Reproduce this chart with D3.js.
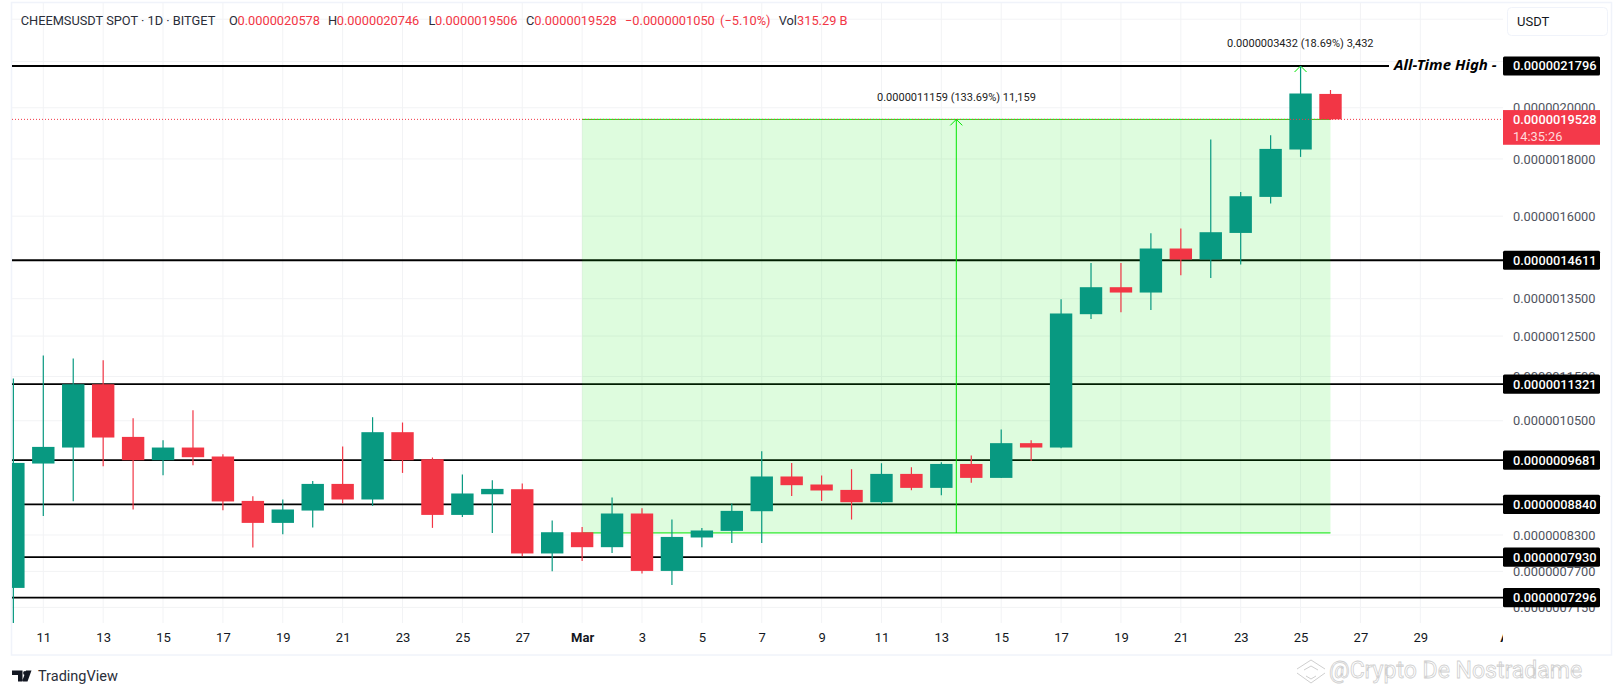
<!DOCTYPE html>
<html lang="en">
<head>
<meta charset="UTF-8">
<title>CHEEMSUSDT</title>
<script src="https://cdn.jsdelivr.net/npm/d3@7"></script>
<style>
  html, body { margin: 0; padding: 0; background: #fff; }
  svg { display: block; }
  text { font-family: Roboto, "Noto Sans", sans-serif; }
</style>
</head>
<body>
<svg id="chart" width="1620" height="692"></svg>
<script>
// prices are in units of 0.0000000001 USDT
const opens = [7443,9615,9937,11320,10157,9681,9937,9755,8903,8509,8728,9220,8929,10256,9701,8650,9026,9120,7990,8347,8094,8675,7708,8257,8370,8716,9362,9209,9107,8879,9412,9145,9607,9335,10027,9937,13076,13823,13672,14969,14634,15457,16647,18353,20578];
const highs = [11454,12010,11936,11894,10555,10088,10731,9801,8990,8929,9277,9958,10577,10462,9735,9400,9291,9228,8551,8439,8966,8770,8568,8422,8856,9862,9627,9381,9503,9621,9542,9641,9775,10313,10088,13486,14532,14532,15448,15599,18735,16819,18901,21796,20746];
const lows = [6893,8632,8898,9562,8747,9387,9582,8734,8088,8313,8428,8856,8812,9431,8422,8615,8335,7945,7703,7869,7999,7667,7489,8094,8166,8166,8995,8903,8568,8843,9101,9008,9242,9335,9667,9923,12949,13129,13192,14169,14087,14484,16420,18076,19506];
const closes = [9627,9950,11320,10144,9681,9937,9741,8893,8509,8747,9220,8929,10256,9681,8650,9040,9126,7990,8347,8094,8675,7708,8267,8377,8722,9362,9196,9096,8879,9412,9145,9607,9335,10027,9937,13095,13823,13672,14969,14634,15480,16670,18376,20596,19528];
const candleDates = d3.utcDay.range(new Date(Date.UTC(2025, 1, 10)), new Date(Date.UTC(2025, 2, 27)));

const levelPrices = [21796, 14611, 11321, 9681, 8840, 7930, 7296];
const priceTicks = [24000, 22000, 20000, 18000, 16000, 13500, 12500, 11500, 10500, 8300, 7700, 7150];
const lastPrice = 19528;
const measureLow = 8335;
const measureDate = new Date(Date.UTC(2025, 2, 13, 12));
const measureStart = new Date(Date.UTC(2025, 2, 1));
const measureEnd = new Date(Date.UTC(2025, 2, 26));
const breakoutDate = new Date(Date.UTC(2025, 2, 25));
const breakoutFrom = 18353;
const dateTicks = [
  ...d3.range(11, 28, 2).map(d => new Date(Date.UTC(2025, 1, d))),
  ...d3.range(1, 30, 2).map(d => new Date(Date.UTC(2025, 2, d))),
  new Date(Date.UTC(2025, 3, 1))
];

const green = "#089981", red = "#f23645", measure = "#00e600";
const paneLeft = 12, paneRight = 1503, paneTop = 3, paneBottom = 623;

const svg = d3.select("#chart");
const y = d3.scaleLog().domain([21796, 7296]).range([66, 597.6]);
const x = d3.scaleUtc()
  .domain([new Date(Date.UTC(2025, 1, 11)), new Date(Date.UTC(2025, 2, 29))])
  .range([43.3, 1420.3]);
const fmtPrice = p => "0." + String(Math.round(p)).padStart(10, "0");

svg.append("defs").append("clipPath").attr("id", "pane")
  .append("rect").attr("x", paneLeft).attr("y", paneTop)
  .attr("width", paneRight - paneLeft).attr("height", paneBottom - paneTop);
svg.select("defs").append("clipPath").attr("id", "xlabels")
  .append("rect").attr("x", paneLeft).attr("y", paneBottom)
  .attr("width", paneRight - paneLeft).attr("height", 32);

// frame
svg.append("rect").attr("x", 11.5).attr("y", 2.5).attr("width", 1600).attr("height", 652.5)
  .attr("fill", "none").attr("stroke", "#f0f3fa").attr("stroke-width", 1.5);

const pane = svg.append("g").attr("clip-path", "url(#pane)");

// grid
pane.append("g").selectAll("line").data(priceTicks).join("line")
  .attr("x1", paneLeft).attr("x2", paneRight)
  .attr("y1", d => y(d)).attr("y2", d => y(d))
  .attr("stroke", "#f2f3f5").attr("stroke-width", 1);
pane.append("g").selectAll("line").data(dateTicks).join("line")
  .attr("x1", d => x(d)).attr("x2", d => x(d))
  .attr("y1", paneTop).attr("y2", paneBottom)
  .attr("stroke", "#f2f3f5").attr("stroke-width", 1);

// horizontal levels
pane.append("g").selectAll("line").data(levelPrices).join("line")
  .attr("x1", paneLeft)
  .attr("x2", d => d === 21796 ? 1389 : paneRight)
  .attr("y1", d => y(d)).attr("y2", d => y(d))
  .attr("stroke", "#000").attr("stroke-width", 1.8);

// measured move
pane.append("rect")
  .attr("x", x(measureStart)).attr("width", x(measureEnd) - x(measureStart))
  .attr("y", y(lastPrice)).attr("height", y(measureLow) - y(lastPrice))
  .attr("fill", "rgba(0,230,0,0.13)");
pane.append("g").selectAll("line").data([lastPrice, measureLow]).join("line")
  .attr("x1", x(measureStart)).attr("x2", x(measureEnd))
  .attr("y1", d => y(d)).attr("y2", d => y(d))
  .attr("stroke", measure).attr("stroke-width", 1);
const arrow = (date, from, to) => {
  const g = pane.append("g").attr("stroke", measure).attr("fill", "none").attr("stroke-width", 1);
  g.append("line").attr("x1", x(date)).attr("x2", x(date)).attr("y1", y(from)).attr("y2", y(to));
  g.append("path").attr("d", `M${x(date) - 6},${y(to) + 6}L${x(date)},${y(to)}L${x(date) + 6},${y(to) + 6}`);
};
arrow(measureDate, measureLow, lastPrice);
arrow(breakoutDate, breakoutFrom, 21796);

// candles
const candles = pane.append("g").selectAll("g").data(candleDates).join("g")
  .attr("fill", (d, i) => closes[i] >= opens[i] ? green : red)
  .attr("stroke", (d, i) => closes[i] >= opens[i] ? green : red);
candles.append("line")
  .attr("x1", d => x(d)).attr("x2", d => x(d))
  .attr("y1", (d, i) => y(highs[i])).attr("y2", (d, i) => y(lows[i]))
  .attr("stroke-width", 1.2);
candles.append("rect")
  .attr("x", d => x(d) - 11.2).attr("width", 22.4)
  .attr("y", (d, i) => y(Math.max(opens[i], closes[i])))
  .attr("height", (d, i) => Math.abs(y(opens[i]) - y(closes[i])))
  .attr("stroke", "none");

// last price dotted line
pane.append("line")
  .attr("x1", paneLeft).attr("x2", paneRight)
  .attr("y1", y(lastPrice)).attr("y2", y(lastPrice))
  .attr("stroke", red).attr("stroke-width", 1).attr("stroke-dasharray", "1 2");

// axes
const yAxis = svg.append("g").attr("transform", `translate(${paneRight},0)`)
  .call(d3.axisRight(y).tickValues(priceTicks).tickFormat(fmtPrice).tickSize(0).tickPadding(10));
yAxis.select(".domain").remove();
yAxis.selectAll("text").attr("fill", "#50535e").style("font-size", "12.8px");

const xAxis = svg.append("g").attr("clip-path", "url(#xlabels)").append("g")
  .attr("transform", `translate(0,${paneBottom})`)
  .call(d3.axisBottom(x).tickValues(dateTicks).tickSize(0).tickPadding(10)
    .tickFormat(d => d.getUTCDate() === 1 ? d3.utcFormat("%b")(d) : d.getUTCDate()));
xAxis.select(".domain").remove();
xAxis.selectAll("text").attr("fill", "#131722").style("font-size", "13px")
  .attr("font-weight", d => d.getUTCDate() === 1 ? 700 : 400);

// level tags
const tags = svg.append("g").selectAll("g").data(levelPrices).join("g")
  .attr("transform", d => `translate(${paneRight},${y(d)})`);
tags.append("rect").attr("y", -9.6).attr("width", 97).attr("height", 19.2).attr("rx", 1.5).attr("fill", "#000");
tags.append("text").attr("x", 10).attr("dy", "0.35em").attr("fill", "#fff")
  .style("font-size", "12.8px").attr("font-weight", 500).text(fmtPrice);

// last price tag
const lastTag = svg.append("g").attr("transform", `translate(${paneRight},${y(lastPrice)})`);
lastTag.append("rect").attr("y", -9.3).attr("width", 97).attr("height", 34.7).attr("fill", "#f4394a");
lastTag.append("text").attr("x", 10).attr("dy", "0.35em").attr("fill", "#fff")
  .style("font-size", "12.8px").attr("font-weight", 500).text(fmtPrice(lastPrice));
lastTag.append("text").attr("x", 10).attr("y", 17).attr("dy", "0.35em").attr("fill", "#ffd9dc")
  .style("font-size", "12.8px").text("14:35:26");

// USDT button
svg.append("rect").attr("x", 1507.5).attr("y", 7.5).attr("width", 100).attr("height", 28).attr("rx", 4)
  .attr("fill", "#fff").attr("stroke", "#f0f3fa");
svg.append("text").attr("x", 1517).attr("y", 26).attr("fill", "#131722").style("font-size", "13px").text("USDT");

// annotations
svg.append("text").attr("x", 1394).attr("y", 70).attr("fill", "#000")
  .style("font-family", "'Noto Sans'").style("font-size", "15px")
  .attr("font-weight", 700).attr("font-style", "italic").text("All-Time High -");
svg.append("text").attr("x", 1227).attr("y", 47).attr("fill", "#222").style("font-size", "11px")
  .text("0.0000003432 (18.69%) 3,432");
svg.append("text").attr("x", 877).attr("y", 101).attr("fill", "#222").style("font-size", "11px")
  .text("0.0000011159 (133.69%) 11,159");

// legend
const legend = svg.append("g").style("font-size", "12.8px");
const legendItems = [
  ["CHEEMSUSDT SPOT · 1D · BITGET", 20.7, "#2a2e39"],
  ["O", 229, "#2a2e39"], ["0.0000020578", 237.5, red],
  ["H", 328, "#2a2e39"], ["0.0000020746", 336.8, red],
  ["L", 428.5, "#2a2e39"], ["0.0000019506", 435, red],
  ["C", 526, "#2a2e39"], ["0.0000019528", 534.3, red],
  ["−0.0000001050", 625, red], ["(−5.10%)", 720, red],
  ["Vol", 778.7, "#2a2e39"], ["315.29 B", 797, red]
];
legend.selectAll("text").data(legendItems).join("text")
  .attr("x", d => d[1]).attr("y", 25).attr("fill", d => d[2]).text(d => d[0]);

// TradingView mark
const tv = svg.append("g");
tv.append("path").attr("fill", "#131722")
  .attr("d", "M12,670.5h10.5v11h-4.5v-6.5h-6z M27.5,681.5l4-11h-5.5l-4,11z");
tv.append("circle").attr("cx", 25).attr("cy", 673).attr("r", 1.9).attr("fill", "#131722");
tv.append("text").attr("x", 38).attr("y", 681).attr("fill", "#2a2e39").style("font-size", "14.5px").text("TradingView");

// watermark
const mark = svg.append("g").attr("fill", "none").attr("stroke", "#cfcfcf").attr("stroke-width", 1);
mark.append("path").attr("d", "M1297,669l14,-9l14,9 M1304,670l7,-4l7,4 M1297,673l14,10l14,-10 M1306,676l5,3l5,-3");
svg.append("text").attr("x", 1329).attr("y", 678).attr("fill", "#fff").attr("stroke", "#cfcfcf")
  .attr("stroke-width", 0.8).style("font-size", "23px").text("@Crypto De Nostradame");
</script>
</body>
</html>
